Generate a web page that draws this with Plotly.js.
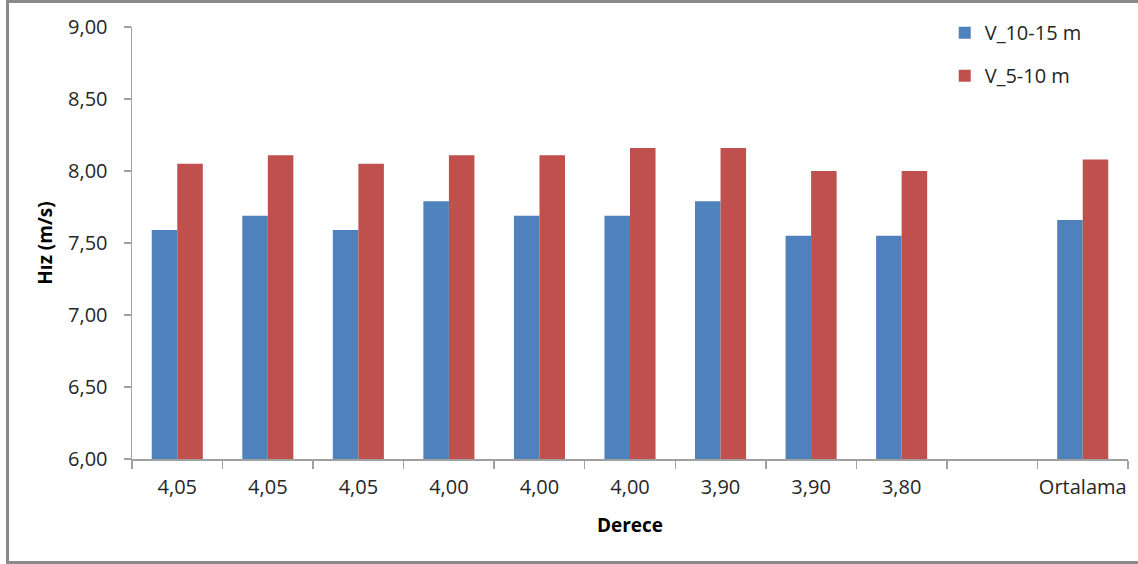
<!DOCTYPE html>
<html>
<head>
<meta charset="utf-8">
<script src="https://cdn.plot.ly/plotly-3.0.1.min.js"></script>
<style>
  html, body { margin: 0; padding: 0; background: #fff; }
  #wrap { position: relative; width: 1138px; height: 564px; overflow: hidden; }
  #chart { width: 1138px; height: 564px; }
  #frame { position: absolute; left: 6px; top: 0px; width: 1140px; height: 558px;
           border: 3px solid #8a8a8a; pointer-events: none; }
</style>
</head>
<body>
<div id="wrap">
  <div id="chart"></div>
  <div id="frame"></div>
</div>
<script>
// Data
const categories = ["4,05", "4,05", "4,05", "4,00", "4,00", "4,00", "3,90", "3,90", "3,80", "", "Ortalama"];
const v10_15 = [7.59, 7.69, 7.59, 7.79, 7.69, 7.69, 7.79, 7.55, 7.55, null, 7.66];
const v5_10  = [8.05, 8.11, 8.05, 8.11, 8.11, 8.16, 8.16, 8.00, 8.00, null, 8.08];
const seriesNames = ["V_10-15 m", "V_5-10 m"];
const yTickVals = [6.0, 6.5, 7.0, 7.5, 8.0, 8.5, 9.0];
const yTickText = ["6,00", "6,50", "7,00", "7,50", "8,00", "8,50", "9,00"];
const axisFloor = 6;

const ids = categories.map((c, i) => "c" + i);

const font = "'Open Sans', 'Liberation Sans', sans-serif";

const traces = [
  { type: "bar", name: seriesNames[0], x: ids, base: axisFloor, legendgroup: "a",
    y: v10_15.map(v => v === null ? null : v - axisFloor),
    marker: { color: "#4F81BD" } },
  { type: "bar", name: seriesNames[1], x: ids, base: axisFloor, legendgroup: "b",
    y: v5_10.map(v => v === null ? null : v - axisFloor),
    marker: { color: "#C0504D" } }
];

const layout = {
  width: 1138, height: 564,
  margin: { l: 132, r: 10, t: 27, b: 105 },
  paper_bgcolor: "#ffffff", plot_bgcolor: "#ffffff",
  font: { family: font, size: 20, color: "#262626" },
  barmode: "group",
  bargap: 0.436, bargroupgap: 0,
  showlegend: true,
  legend: {
    x: 0.816, y: 1.032, xanchor: "left", yanchor: "top",
    font: { family: font, size: 20, color: "#262626" },
    traceorder: "grouped", tracegroupgap: 14,
    bgcolor: "rgba(0,0,0,0)"
  },
  xaxis: {
    type: "category",
    tickmode: "array", tickvals: ids, ticktext: categories,
    tickson: "boundaries", tickangle: 0,
    ticks: "outside", ticklen: 8, tickcolor: "#a0a0a0", tickwidth: 1.5,
    showline: true, linecolor: "#a0a0a0", linewidth: 1.5,
    showgrid: false, zeroline: false,
    ticklabelstandoff: 9,
    tickfont: { family: font, size: 20, color: "#262626" },
    title: { text: "Derece", font: { family: font, size: 19, color: "#000", weight: "bold" }, standoff: 20 },
    automargin: false
  },
  yaxis: {
    range: [6, 9],
    tickmode: "array", tickvals: yTickVals, ticktext: yTickText,
    ticks: "outside", ticklen: 7, tickcolor: "#a0a0a0", tickwidth: 1.5,
    showline: true, linecolor: "#a0a0a0", linewidth: 1.5,
    showgrid: false, zeroline: false,
    ticklabelstandoff: 12,
    tickfont: { family: font, size: 20, color: "#262626" },
    title: { text: "Hız (m/s)", font: { family: font, size: 19, color: "#000", weight: "bold" }, standoff: 10 },
    automargin: false
  }
};

Plotly.newPlot("chart", traces, layout, { displayModeBar: false, staticPlot: true });
</script>
</body>
</html>
